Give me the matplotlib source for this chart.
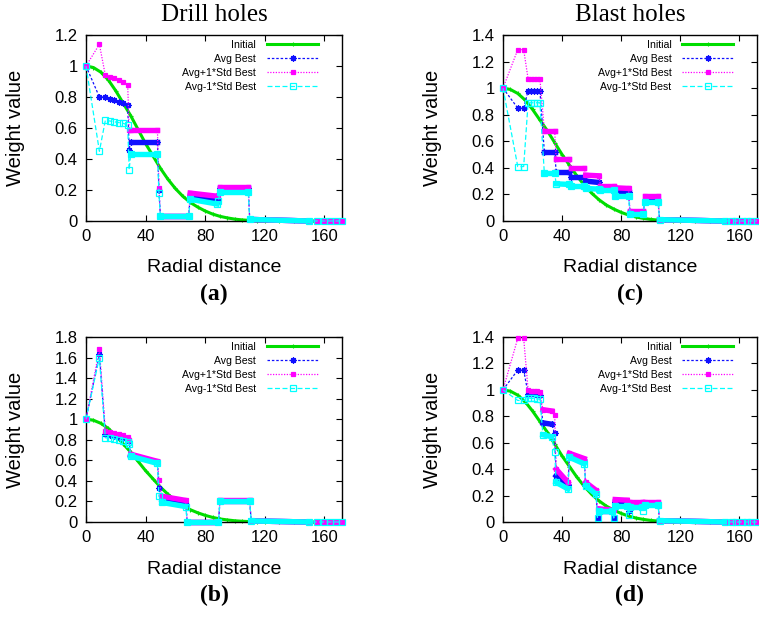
import matplotlib
matplotlib.use('Agg')
import matplotlib.pyplot as plt
from matplotlib.ticker import FuncFormatter, MultipleLocator

plt.rcParams['font.family'] = ['Liberation Sans', 'DejaVu Sans']

W, H = 759, 619

# Initial weight curve (same for every panel)
init_x = [0, 5, 10, 15, 20, 25, 30, 35, 40, 45, 50, 55, 60, 65, 70, 75, 80, 85,
          90, 95, 100, 105, 110, 115, 120, 130, 140, 150, 160, 172]
init_y = [1.0, 0.99, 0.96, 0.91, 0.84, 0.76, 0.68, 0.59, 0.50, 0.42, 0.34, 0.27,
          0.21, 0.16, 0.12, 0.09, 0.065, 0.045, 0.03, 0.02, 0.012, 0.007, 0.004,
          0.0, 0.0, 0.0, 0.0, 0.0, 0.0, 0.0]

# (a) drill holes, top
a_x = [0, 9, 13, 16, 19, 22, 25, 28, 29, 30, 48, 49, 50, 69, 70, 88, 89, 90, 109,
       110, 150, 155, 160, 164, 168, 172]
a_avg = [1.0, 0.80, 0.80, 0.79, 0.78, 0.77, 0.76, 0.75, 0.46, 0.51, 0.51, 0.20,
         0.03, 0.03, 0.16, 0.13, 0.14, 0.21, 0.21, 0.01, 0.0, 0, 0, 0, 0, 0]
a_plus = [1.0, 1.14, 0.94, 0.93, 0.92, 0.91, 0.90, 0.88, 0.59, 0.59, 0.59, 0.21,
          0.03, 0.03, 0.18, 0.16, 0.17, 0.22, 0.22, 0.01, 0.0, 0, 0, 0, 0, 0]
a_minus = [1.0, 0.45, 0.65, 0.645, 0.64, 0.635, 0.63, 0.62, 0.33, 0.43, 0.43, 0.18,
           0.03, 0.03, 0.14, 0.11, 0.13, 0.19, 0.19, 0.01, 0.0, 0, 0, 0, 0, 0]

# (b) drill holes, bottom
b_x = [0, 9, 13, 16, 19, 22, 25, 28, 29, 30, 48, 49, 51, 67, 68, 89, 90, 110, 111,
       150, 155, 160, 164, 168, 172]
b_avg = [1.0, 1.63, 0.86, 0.85, 0.84, 0.83, 0.82, 0.81, 0.79, 0.65, 0.58, 0.33,
         0.22, 0.18, 0.0, 0.0, 0.20, 0.20, 0.01, 0.0, 0, 0, 0, 0, 0]
b_plus = [1.0, 1.68, 0.89, 0.88, 0.87, 0.86, 0.85, 0.83, 0.80, 0.66, 0.59, 0.41,
          0.25, 0.21, 0.0, 0.0, 0.21, 0.21, 0.01, 0.0, 0, 0, 0, 0, 0]
b_minus = [1.0, 1.60, 0.82, 0.815, 0.81, 0.80, 0.79, 0.78, 0.76, 0.64, 0.57, 0.25,
           0.19, 0.15, 0.0, 0.0, 0.20, 0.20, 0.01, 0.0, 0, 0, 0, 0, 0]

# (c) blast holes, top
c_x = [0, 10, 14, 17, 19, 21, 23, 25, 28, 35, 36, 45, 46, 55, 56, 65, 66, 75, 76,
       85, 86, 95, 96, 105, 106, 150, 155, 158, 162, 165, 168, 172]
c_avg = [1.0, 0.85, 0.85, 0.98, 0.98, 0.98, 0.98, 0.98, 0.52, 0.52, 0.37, 0.37,
         0.33, 0.33, 0.30, 0.29, 0.24, 0.24, 0.215, 0.215, 0.065, 0.065, 0.15,
         0.15, 0.01, 0.0, 0, 0, 0, 0, 0, 0]
c_plus = [1.0, 1.29, 1.29, 1.07, 1.07, 1.07, 1.07, 1.07, 0.68, 0.68, 0.47, 0.47,
          0.40, 0.40, 0.345, 0.34, 0.265, 0.265, 0.25, 0.245, 0.075, 0.075, 0.19,
          0.19, 0.01, 0.0, 0, 0, 0, 0, 0, 0]
c_minus = [1.0, 0.41, 0.41, 0.89, 0.89, 0.89, 0.89, 0.89, 0.36, 0.36, 0.28, 0.275,
           0.26, 0.26, 0.245, 0.24, 0.23, 0.23, 0.19, 0.19, 0.055, 0.055, 0.145,
           0.145, 0.01, 0.0, 0, 0, 0, 0, 0, 0]

# (d) blast holes, bottom
d_x = [0, 10, 14, 17, 19, 21, 23, 25, 27, 33, 35, 36, 44, 45, 55, 56, 63, 64, 65,
       74, 75, 76, 84, 85, 86, 94, 95, 96, 105, 106, 150, 155, 158, 162, 165, 168, 172]
d_avg = [1.0, 1.15, 1.15, 0.97, 0.97, 0.965, 0.96, 0.96, 0.75, 0.74, 0.67, 0.35,
         0.28, 0.50, 0.46, 0.28, 0.22, 0.03, 0.08, 0.08, 0.03, 0.15, 0.145, 0.08,
         0.14, 0.135, 0.13, 0.135, 0.135, 0.01, 0.0, 0, 0, 0, 0, 0, 0]
d_plus = [1.0, 1.39, 1.39, 1.0, 0.995, 0.99, 0.99, 0.985, 0.85, 0.84, 0.81, 0.40,
          0.30, 0.52, 0.48, 0.30, 0.24, 0.10, 0.10, 0.09, 0.09, 0.17, 0.165, 0.155,
          0.155, 0.155, 0.155, 0.155, 0.155, 0.01, 0.0, 0, 0, 0, 0, 0, 0]
d_minus = [1.0, 0.92, 0.92, 0.94, 0.935, 0.935, 0.93, 0.93, 0.66, 0.645, 0.53, 0.30,
           0.25, 0.49, 0.44, 0.275, 0.21, 0.03, 0.08, 0.08, 0.03, 0.12, 0.12, 0.05,
           0.11, 0.11, 0.08, 0.13, 0.13, 0.01, 0.0, 0, 0, 0, 0, 0, 0]

labels = ['Initial', 'Avg Best', 'Avg+1*Std Best', 'Avg-1*Std Best']

panels = [
    dict(tag='(a)', title='Drill holes', x=a_x, avg=a_avg, plus=a_plus, minus=a_minus,
         ymax=1.2, box=(86, 35, 342, 221)),
    dict(tag='(c)', title='Blast holes', x=c_x, avg=c_avg, plus=c_plus, minus=c_minus,
         ymax=1.4, box=(503, 35, 757, 221)),
    dict(tag='(b)', title=None, x=b_x, avg=b_avg, plus=b_plus, minus=b_minus,
         ymax=1.8, box=(86, 337, 342, 522)),
    dict(tag='(d)', title=None, x=d_x, avg=d_avg, plus=d_plus, minus=d_minus,
         ymax=1.4, box=(503, 337, 757, 522)),
]

GREEN = '#00dd00'
BLUE = '#1010ff'
MAGENTA = '#ff00ff'
CYAN = '#00ffff'


def draw_series(ax, xs, ys, color, ls, marker, ms, mfc, label, z):
    line, = ax.plot(xs, ys, color=color, ls=ls, lw=0.9, marker=marker, ms=ms,
                    mfc=mfc, mec=color, mew=0.9, label=label, clip_on=False, zorder=z)
    # long flat runs are really many overlapping markers -> draw as thick band
    for x0, x1, y0, y1 in zip(xs[:-1], xs[1:], ys[:-1], ys[1:]):
        if x1 - x0 >= 4 and x0 >= 26 and x1 <= 150:
            ax.plot([x0, x1], [y0, y1], color=color, lw=3.9, solid_capstyle='projecting',
                    clip_on=False, zorder=z)
    return line


fig = plt.figure(figsize=(W / 100, H / 100), dpi=100)

for p in panels:
    l, t, r, b = p['box']
    ax = fig.add_axes([l / W, 1 - b / H, (r - l) / W, (b - t) / H])

    h0, = ax.plot(init_x, init_y, color=GREEN, lw=2.2, marker='+', ms=3, mew=0.8,
                  label=labels[0], clip_on=False, zorder=2)
    h1 = draw_series(ax, p['x'], p['avg'], BLUE, (0, (2, 1.5)), (8, 2, 0), 4.5, BLUE, labels[1], 3)
    h2 = draw_series(ax, p['x'], p['plus'], MAGENTA, (0, (1, 1.2)), 's', 3.5, MAGENTA, labels[2], 4)
    h3 = draw_series(ax, p['x'], p['minus'], CYAN, (0, (4, 2)), 's', 4, 'none', labels[3], 5)

    ax.set_xlim(0, 172)
    ax.set_ylim(0, p['ymax'])
    ax.xaxis.set_major_locator(MultipleLocator(40))
    ax.yaxis.set_major_locator(MultipleLocator(0.2))
    ax.yaxis.set_major_formatter(FuncFormatter(lambda v, _: '%g' % round(v, 2)))
    ax.tick_params(direction='in', length=4.5, width=0.8, top=True, right=True,
                   labelsize=12, pad=6)
    for s in ax.spines.values():
        s.set_linewidth(1.0)

    leg = ax.legend(handles=[h0, h1, h2, h3], loc='upper right',
                    bbox_to_anchor=(1 - 24 / (r - l), 1 - 5 / (b - t)),
                    frameon=False, fontsize=7.6, markerfirst=False, numpoints=1,
                    handlelength=4.8, handletextpad=1.05, labelspacing=0.38,
                    borderpad=0, borderaxespad=0)
    for txt in leg.get_texts():
        txt.set_ha('right')

    cx = (l + r) / 2
    fig.text(cx / W, 1 - (b + 47) / H, 'Radial distance', ha='center', va='center', fontsize=14)
    fig.text(cx / W, 1 - (b + 73) / H, p['tag'], ha='center', va='center', fontsize=17,
             fontweight='bold', family='Liberation Serif')
    fig.text((l - 70) / W, 1 - ((t + b) / 2) / H, 'Weight value', ha='center', va='center',
             rotation=90, fontsize=14.5)
    if p['title']:
        fig.text(cx / W, 1 - 15 / H, p['title'], ha='center', va='center', fontsize=18,
                 family='Liberation Serif')

fig.savefig('out.png', dpi=100)
